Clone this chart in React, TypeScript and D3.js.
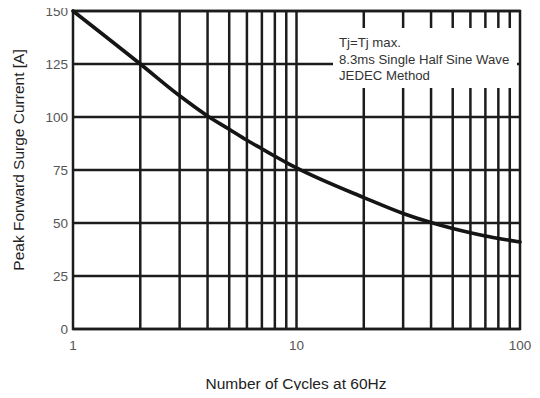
import React from "react";
import * as d3 from "d3";

// Surge current derating vs. number of cycles
const cycles = [1, 2, 3, 4, 5, 6, 7, 8, 9, 10, 20, 30, 40, 50, 60, 70, 80, 90, 100];
const surgeCurrent = [150, 125, 110, 100.5, 94.2, 89, 85, 81.5, 78.5, 76, 62, 54.5, 50.2, 47.4, 45.4, 43.9, 42.7, 41.8, 41];

const yTicks = [0, 25, 50, 75, 100, 125, 150];
const xTickLabels = [1, 10, 100];
const xGrid = [2, 3, 4, 5, 6, 7, 8, 9, 10, 20, 30, 40, 50, 60, 70, 80, 90];

const noteLines = ["Tj=Tj max.", "8.3ms Single Half Sine Wave", "JEDEC Method"];

const W = 540;
const H = 398;
const M = { left: 73, right: 20, top: 11, bottom: 69 };

export default function App() {
  const x = d3.scaleLog().domain([1, 100]).range([M.left, W - M.right]);
  const y = d3.scaleLinear().domain([0, 150]).range([H - M.bottom, M.top]);

  const line = d3
    .line<number>()
    .x((_, i) => x(cycles[i]))
    .y((d) => y(d))
    .curve(d3.curveMonotoneX);

  const font = "Arial, 'Liberation Sans', Helvetica, sans-serif";
  const gridColor = "#1c1c1c";
  const gridW = 2.5;

  return (
    <div style={{ margin: -8 }}>
      <svg width={W} height={H} style={{ display: "block", background: "#fff" }} fontFamily={font}>
        {/* horizontal grid */}
        {yTicks.map((t) => (
          <line key={"h" + t} x1={x(1)} x2={x(100)} y1={y(t)} y2={y(t)} stroke={gridColor} strokeWidth={gridW} />
        ))}
        {/* vertical grid */}
        {xGrid.map((t) => (
          <line key={"v" + t} x1={x(t)} x2={x(t)} y1={y(0)} y2={y(150)} stroke={gridColor} strokeWidth={gridW} />
        ))}
        {/* note box */}
        <rect x={333} y={28} width={184} height={60} fill="#fff" />
        {noteLines.map((s, i) => (
          <text key={s} x={339} y={47 + i * 16.5} fontSize={13.2} fill="#333">
            {s}
          </text>
        ))}
        {/* frame */}
        <rect x={x(1)} y={y(150)} width={x(100) - x(1)} height={y(0) - y(150)} fill="none" stroke={gridColor} strokeWidth={gridW} />
        {/* curve */}
        <path d={line(surgeCurrent) ?? ""} fill="none" stroke="#151515" strokeWidth={3.6} strokeLinecap="round" />
        {/* y tick labels */}
        {yTicks.map((t) => (
          <text key={"yl" + t} x={x(1) - 5} y={y(t)} dy="0.36em" textAnchor="end" fontSize={13.5} fill="#555">
            {t}
          </text>
        ))}
        {/* x tick labels */}
        {xTickLabels.map((t) => (
          <text key={"xl" + t} x={x(t)} y={y(0) + 21} textAnchor="middle" fontSize={13.5} fill="#555">
            {t}
          </text>
        ))}
        {/* axis titles */}
        <text x={296} y={389} textAnchor="middle" fontSize={15.5} fill="#222">
          Number of Cycles at 60Hz
        </text>
        <text transform={`translate(24,160) rotate(-90)`} textAnchor="middle" fontSize={15.5} fill="#222">
          Peak Forward Surge Current [A]
        </text>
      </svg>
    </div>
  );
}
